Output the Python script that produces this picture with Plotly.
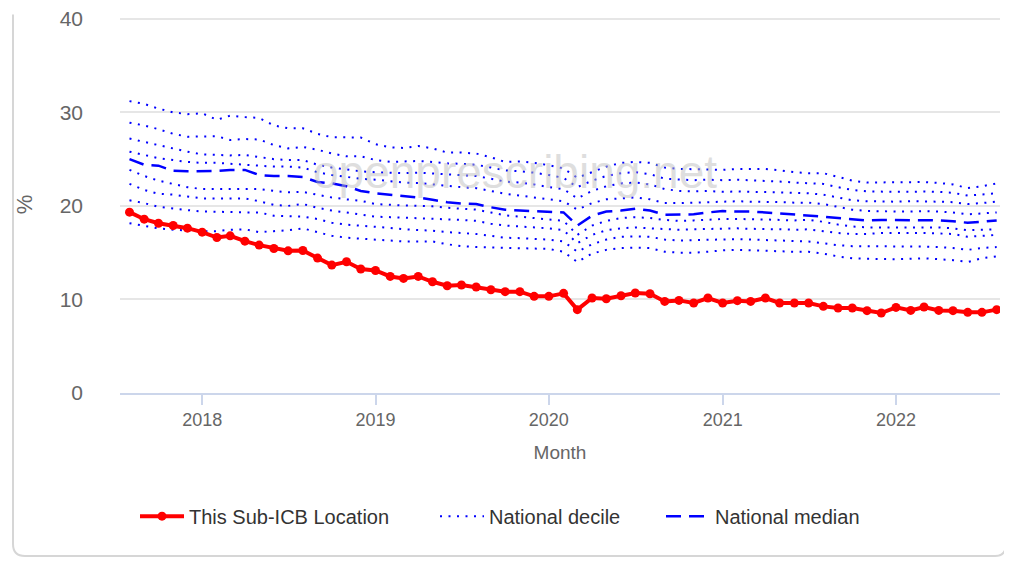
import plotly.graph_objects as go
import pandas as pd

# monthly points, Aug 2017 .. Aug 2022
months = pd.date_range("2017-08-01", "2022-08-01", freq="MS")

this_location = [19.33, 18.58, 18.15, 17.9, 17.62, 17.19, 16.62, 16.8, 16.23, 15.81,
                 15.45, 15.2, 15.23, 14.42, 13.67, 14.03, 13.25, 13.1, 12.46, 12.25,
                 12.46, 11.89, 11.47, 11.54, 11.33, 11.04, 10.83, 10.83, 10.33, 10.33,
                 10.65, 8.91, 10.15, 10.08, 10.4, 10.69, 10.61, 9.79, 9.9, 9.62,
                 10.15, 9.62, 9.87, 9.79, 10.15, 9.62, 9.62, 9.62, 9.26, 9.09,
                 9.09, 8.8, 8.55, 9.15, 8.83, 9.19, 8.83, 8.8, 8.62, 8.62, 8.91]

median = [25.0, 24.4, 24.3, 23.75, 23.7, 23.7, 23.75, 23.85, 23.85, 23.3,
          23.2, 23.2, 23.1, 22.55, 22.4, 22.1, 21.6, 21.35, 21.2, 21.05,
          20.9, 20.65, 20.4, 20.25, 20.2, 19.85, 19.6, 19.5, 19.45, 19.4,
          19.3, 17.9, 18.95, 19.4, 19.5, 19.7, 19.5, 19.05, 19.05, 19.1,
          19.3, 19.45, 19.4, 19.4, 19.3, 19.2, 19.05, 18.95, 18.85, 18.7,
          18.55, 18.45, 18.5, 18.5, 18.5, 18.5, 18.45, 18.35, 18.2, 18.3, 18.45]

d90 = [31.2, 30.9, 30.4, 30.0, 29.8, 29.9, 29.2, 29.65, 29.5, 29.4,
       28.6, 28.3, 28.3, 27.7, 27.35, 27.3, 27.3, 26.6, 26.25, 26.2,
       26.4, 26.15, 25.7, 25.7, 25.6, 25.2, 24.7, 24.75, 24.6, 24.35,
       24.0, 23.0, 23.6, 24.2, 24.6, 24.7, 24.6, 24.1, 23.95, 23.95,
       23.9, 23.85, 23.95, 23.95, 23.95, 23.8, 23.6, 23.5, 23.5, 23.1,
       22.7, 22.5, 22.5, 22.5, 22.5, 22.55, 22.45, 22.3, 21.9, 22.1, 22.4]

d80 = [28.9, 28.6, 28.2, 27.7, 27.4, 27.4, 27.45, 27.05, 27.15, 27.1,
       26.5, 26.15, 26.3, 26.0, 25.6, 25.3, 25.3, 24.9, 24.7, 24.75,
       24.8, 24.7, 24.55, 24.5, 24.4, 24.1, 23.8, 23.7, 23.55, 23.3,
       23.0, 22.0, 22.7, 23.2, 23.5, 23.6, 23.4, 22.9, 22.8, 22.75,
       22.8, 22.75, 22.8, 22.75, 22.7, 22.6, 22.5, 22.4, 22.35, 22.0,
       21.7, 21.55, 21.5, 21.5, 21.5, 21.55, 21.5, 21.4, 21.1, 21.2, 21.35]

d70 = [27.2, 26.85, 26.5, 26.1, 25.8, 25.5, 25.45, 25.4, 25.45, 25.25,
       25.0, 24.9, 24.9, 24.4, 24.1, 23.9, 23.7, 23.6, 23.55, 23.5,
       23.55, 23.45, 23.35, 23.3, 23.2, 22.9, 22.6, 22.5, 22.3, 22.0,
       21.8, 20.8, 21.6, 22.1, 22.4, 22.5, 22.3, 21.8, 21.6, 21.55,
       21.6, 21.5, 21.55, 21.5, 21.5, 21.45, 21.4, 21.35, 21.2, 20.9,
       20.6, 20.5, 20.45, 20.45, 20.5, 20.5, 20.45, 20.4, 20.2, 20.3, 20.45]

d60 = [25.8, 25.45, 25.1, 24.9, 24.7, 24.6, 24.6, 24.5, 24.4, 24.3,
       24.2, 24.2, 24.1, 23.6, 23.3, 23.1, 22.9, 22.8, 22.6, 22.5,
       22.45, 22.3, 22.1, 22.0, 21.9, 21.6, 21.3, 21.1, 20.9, 20.7,
       20.5, 19.6, 20.3, 20.7, 20.8, 20.9, 20.7, 20.3, 20.3, 20.35,
       20.4, 20.45, 20.5, 20.45, 20.45, 20.4, 20.35, 20.35, 20.2, 19.9,
       19.6, 19.45, 19.4, 19.4, 19.4, 19.45, 19.4, 19.3, 19.1, 19.2, 19.3]

d40 = [23.85, 23.2, 22.7, 22.35, 22.0, 21.8, 21.8, 21.8, 21.85, 21.8,
       21.6, 21.45, 21.5, 21.2, 20.9, 20.7, 20.55, 20.2, 20.1, 20.05,
       20.0, 19.95, 19.8, 19.7, 19.6, 19.3, 19.0, 18.85, 18.7, 18.55,
       18.4, 16.9, 17.9, 18.4, 18.7, 18.8, 18.7, 18.5, 18.4, 18.45,
       18.55, 18.6, 18.6, 18.6, 18.55, 18.5, 18.45, 18.5, 18.3, 18.0,
       17.8, 17.7, 17.7, 17.7, 17.75, 17.7, 17.7, 17.6, 17.4, 17.45, 17.5]

d30 = [22.35, 21.7, 21.3, 21.2, 21.0, 20.8, 20.8, 20.8, 20.8, 20.5,
       20.1, 20.0, 20.2, 19.8, 19.5, 19.3, 19.05, 18.85, 18.8, 18.75,
       18.7, 18.65, 18.55, 18.5, 18.4, 18.1, 17.9, 17.8, 17.7, 17.6,
       17.4, 16.0, 16.9, 17.4, 17.6, 17.7, 17.6, 17.5, 17.45, 17.5,
       17.55, 17.6, 17.6, 17.55, 17.55, 17.5, 17.45, 17.5, 17.3, 17.1,
       17.0, 17.0, 17.1, 17.1, 17.15, 17.1, 17.05, 17.0, 16.7, 16.8, 16.9]

d20 = [20.6, 20.3, 19.9, 19.7, 19.55, 19.4, 19.4, 19.35, 19.3, 19.3,
       18.95, 18.9, 18.85, 18.6, 18.2, 18.0, 17.9, 17.8, 17.65, 17.5,
       17.45, 17.35, 17.2, 17.1, 17.0, 16.8, 16.6, 16.55, 16.5, 16.4,
       16.2, 15.1, 15.9, 16.4, 16.7, 16.75, 16.7, 16.4, 16.3, 16.35,
       16.4, 16.4, 16.45, 16.4, 16.35, 16.3, 16.2, 16.2, 16.0, 15.8,
       15.7, 15.7, 15.7, 15.7, 15.7, 15.65, 15.6, 15.5, 15.3, 15.5, 15.6]

d10 = [18.15, 17.9, 17.6, 17.45, 17.35, 17.3, 17.3, 17.45, 17.5, 17.2,
       17.3, 17.4, 17.6, 17.2, 16.8, 16.6, 16.5, 16.35, 16.25, 16.2,
       16.2, 16.2, 15.9, 15.7, 15.6, 15.55, 15.5, 15.5, 15.45, 15.4,
       15.1, 14.0, 14.9, 15.3, 15.5, 15.55, 15.5, 15.1, 15.0, 15.0,
       15.1, 15.25, 15.3, 15.25, 15.2, 15.1, 15.1, 15.1, 14.9, 14.6,
       14.4, 14.35, 14.3, 14.3, 14.35, 14.4, 14.3, 14.2, 14.0, 14.4, 14.6]

deciles = [d10, d20, d30, d40, d60, d70, d80, d90]

FONT = "Liberation Sans, Arial, sans-serif"
# page body adds 8px, so the figure is drawn 8px smaller and shifted
OFF = 8
W, H = 1012 - OFF, 561 - OFF
L, R, T, B = 120 - OFF, 1000 - OFF, 15.5 - OFF, 393.5 - OFF
YMAX = 40.3


def px_x(px):
    return (px - OFF - L) / (R - L)


def px_y(py):
    return (B - (py - OFF)) / (B - T)


fig = go.Figure()

for k, d in enumerate(deciles):
    fig.add_trace(go.Scatter(x=months, y=d, mode="lines", name="National decile",
                             line=dict(color="#0000ff", width=2, dash="2px,6.5px"),
                             legend="legend3", legendgroup="dec",
                             showlegend=(k == 0), hoverinfo="skip"))

fig.add_trace(go.Scatter(x=months, y=median, mode="lines", name="National median",
                         line=dict(color="#0000ff", width=2.5, dash="15px,8px"),
                         legend="legend4"))

fig.add_trace(go.Scatter(x=months, y=this_location, mode="lines+markers",
                         name="This Sub-ICB Location",
                         line=dict(color="#ff0000", width=4),
                         marker=dict(color="#ff0000", size=9),
                         legend="legend2"))

fig.add_annotation(text="openprescribing.net", x=px_x(515), y=px_y(172),
                   xref="paper", yref="paper", showarrow=False,
                   font=dict(family=FONT, size=46, color="rgba(190,190,190,0.5)"))

# card border
path = "M{},{} L{},{} Q{},{} {},{} L{},{} Q{},{} {},{} L{},{}".format(
    px_x(13), px_y(14), px_x(13), px_y(545), px_x(13), px_y(557), px_x(25), px_y(557),
    px_x(995), px_y(557), px_x(1006), px_y(557), px_x(1006), px_y(545),
    px_x(1006), px_y(14))
fig.add_shape(type="path", path=path, xref="paper", yref="paper",
              line=dict(color="#d6d6d6", width=2), layer="below")

leg = dict(orientation="h", yanchor="middle", xanchor="left",
           font=dict(family=FONT, size=20, color="#333333"),
           bgcolor="rgba(0,0,0,0)", itemwidth=44)
fig.update_layout(
    width=W, height=H,
    margin=dict(l=L, r=W - R, t=T, b=H - B, autoexpand=False),
    paper_bgcolor="white", plot_bgcolor="white",
    font=dict(family=FONT, color="#666666"),
    legend2=dict(leg, x=px_x(135), y=px_y(517)),
    legend3=dict(leg, x=px_x(435), y=px_y(517)),
    legend4=dict(leg, x=px_x(661), y=px_y(517)),
)

fig.update_xaxes(type="date", range=["2017-07-12", "2022-08-08"], automargin=False,
                 tick0="2018-01-01", dtick="M12", tickformat="%Y",
                 showgrid=False, showline=True, linecolor="#ccd6eb", linewidth=1.5,
                 ticks="outside", ticklen=10, tickcolor="#ccd6eb", tickwidth=1.5,
                 tickfont=dict(family=FONT, size=18, color="#666666"),
                 title=dict(text="Month", standoff=16,
                            font=dict(family=FONT, size=19, color="#666666")))

fig.update_yaxes(range=[0, YMAX], tick0=0, dtick=10, showgrid=True, gridcolor="#e6e6e6",
                 gridwidth=1.5, zeroline=False, showline=False, automargin=False,
                 ticklabelstandoff=36, ticklabeloverflow="allow",
                 tickfont=dict(family=FONT, size=21, color="#666666"),
                 title=dict(text="%", standoff=20,
                            font=dict(family=FONT, size=22, color="#666666")))

fig.write_html("out.html")
